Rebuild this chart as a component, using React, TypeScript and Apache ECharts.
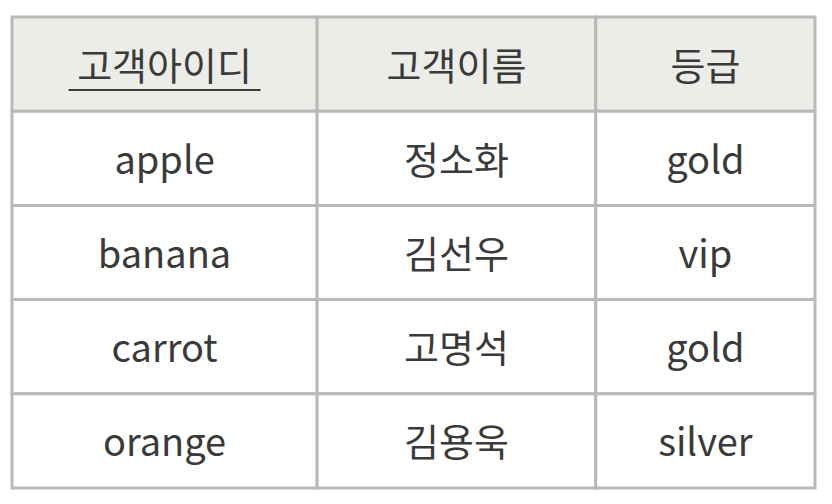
import React, { useRef, useEffect } from 'react';
import * as echarts from 'echarts';

const headers = ['고객아이디', '고객이름', '등급'];
const customerIds = ['apple', 'banana', 'carrot', 'orange'];
const customerNames = ['정소화', '김선우', '고명석', '김용욱'];
const grades = ['gold', 'vip', 'gold', 'silver'];
const rowLabels = ['header', 'r1', 'r2', 'r3', 'r4'];

// column boundaries as fractions of table width
const colEdges = [0, 0.38, 0.727, 1];

const columns = [customerIds, customerNames, grades];

const App: React.FC = () => {
    const ref = useRef<HTMLDivElement>(null);

    useEffect(() => {
        if (!ref.current) return;
        const chart = echarts.init(ref.current, null, { renderer: 'svg' });

        const cells: [number, number][] = [];
        for (let r = 0; r < rowLabels.length; r++) {
            for (let c = 0; c < 3; c++) cells.push([c, r]);
        }

        chart.setOption({
            animation: false,
            backgroundColor: '#fff',
            grid: { left: 4, right: 9, top: 9, bottom: 8 },
            xAxis: { type: 'value', min: 0, max: 1, show: false },
            yAxis: { type: 'category', data: rowLabels, inverse: true, show: false },
            series: [{
                type: 'custom',
                data: cells,
                renderItem: (params: any, api: any) => {
                    const c = api.value(0);
                    const r = api.value(1);
                    const h = api.size([0, 1])[1];
                    const p0 = api.coord([colEdges[c], r]);
                    const p1 = api.coord([colEdges[c + 1], r]);
                    const x = p0[0], y = p0[1] - h / 2, w = p1[0] - p0[0];
                    const text = r === 0 ? headers[c] : columns[c][r - 1];
                    const children: any[] = [
                        {
                            type: 'rect',
                            shape: { x, y, width: w, height: h },
                            style: { fill: r === 0 ? '#ecede8' : '#fff', stroke: '#b9b9b9', lineWidth: 3 }
                        },
                        {
                            type: 'text',
                            style: {
                                x: x + w / 2, y: y + h / 2 - 1, text,
                                align: 'center', verticalAlign: 'middle',
                                font: '38px "Noto Sans CJK KR", sans-serif', fill: '#3a3a3a'
                            }
                        }
                    ];
                    if (r === 0 && c === 0) {
                        children.push({
                            type: 'line',
                            shape: { x1: x + w / 2 - 96, y1: y + h / 2 + 26, x2: x + w / 2 + 96, y2: y + h / 2 + 26 },
                            style: { stroke: '#3a3a3a', lineWidth: 2 }
                        });
                    }
                    return { type: 'group', children };
                }
            }]
        });

        return () => chart.dispose();
    }, []);

    return <div ref={ref} style={{ width: 816, height: 488 }} />;
};

export default App;
